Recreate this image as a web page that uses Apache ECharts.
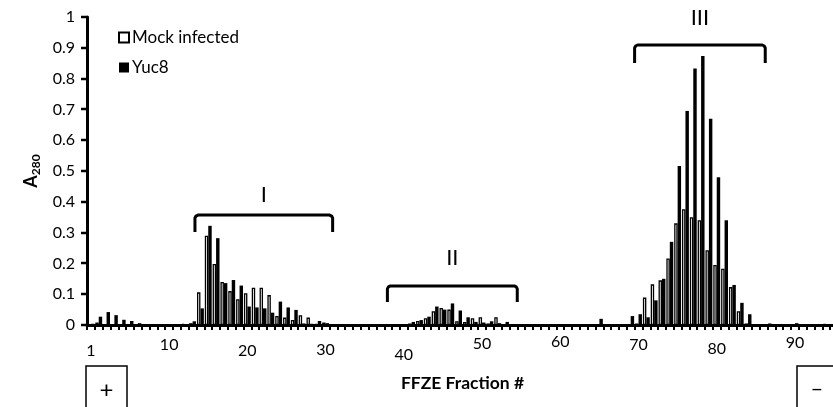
<!DOCTYPE html>
<html>
<head>
<meta charset="utf-8">
<script src="https://cdn.jsdelivr.net/npm/echarts@6/dist/echarts.min.js"></script>
<style>
  html, body { margin: 0; padding: 0; background: #fff; }
  #chart { width: 833px; height: 407px; }
</style>
</head>
<body>
<div id="chart"></div>
<script>
// FFZE fractions along the x axis
const fractions = []
for (let i = 1; i <= 96; i++) fractions.push(String(i))

// A280 per fraction
const mockInfected = [
  0, 0.008, 0, 0.003, 0.002, 0, 0, 0, 0, 0,
  0, 0, 0.004, 0.006, 0.106, 0.29, 0.198, 0.14, 0.11, 0.084,
  0.103, 0.121, 0.121, 0.097, 0.029, 0.024, 0.016, 0.032, 0.024, 0.004,
  0.008, 0.003, 0, 0, 0, 0, 0, 0, 0, 0,
  0, 0.005, 0.013, 0.022, 0.045, 0.055, 0.05, 0.012, 0.01, 0.022,
  0.025, 0.005, 0.025, 0.003, 0.002, 0, 0, 0, 0, 0,
  0, 0, 0, 0, 0, 0, 0, 0, 0.003, 0,
  0.005, 0.089, 0.132, 0.145, 0.216, 0.33, 0.376, 0.35, 0.34, 0.243,
  0.195, 0.183, 0.123, 0.045, 0.005, 0.003, 0, 0.005, 0, 0,
  0, 0, 0, 0, 0.004, 0
]
const yuc8 = [
  0.004, 0.027, 0.042, 0.032, 0.017, 0.013, 0.006, 0, 0, 0,
  0, 0, 0.002, 0.012, 0.054, 0.322, 0.282, 0.136, 0.146, 0.128,
  0.06, 0.057, 0.054, 0.04, 0.076, 0.057, 0.049, 0.005, 0.004, 0.013,
  0.006, 0, 0, 0, 0, 0, 0, 0, 0, 0,
  0, 0.01, 0.016, 0.027, 0.06, 0.05, 0.07, 0.047, 0.025, 0.01,
  0.008, 0.012, 0.006, 0.01, 0, 0, 0, 0, 0, 0,
  0, 0, 0, 0, 0, 0.02, 0, 0, 0, 0.029,
  0.035, 0.025, 0.08, 0.15, 0.27, 0.516, 0.695, 0.833, 0.873, 0.67,
  0.48, 0.34, 0.13, 0.072, 0.035, 0, 0, 0, 0, 0,
  0.006, 0, 0, 0, 0, 0
]

// labels under the axis: [category index, text]
const tickLabels = [[0, '1'], [10, '10'], [20, '20'], [30, '30'], [40, '40'],
  [50, '50'], [60, '60'], [70, '70'], [80, '80'], [90, '90']]
// y ticks every 0.1
const yTicks = [0, 0.1, 0.2, 0.3, 0.4, 0.5, 0.6, 0.7, 0.8, 0.9, 1]

// peak groups: span in category units, bracket level in A280
const brackets = [
  { label: 'I', from: 13.8, to: 31.4, level: 0.357, arm: 0.302, text: 0.422 },
  { label: 'II', from: 38.4, to: 55.0, level: 0.127, arm: 0.075, text: 0.2175 },
  { label: 'III', from: 70.0, to: 86.7, level: 0.909, arm: 0.851, text: 0.997 }
]

// the hand-placed labels sit at slightly different heights
const labelDrop = { '1': 9, '10': 3, '20': 9, '30': 8, '40': 13, '50': 2, '60': 0, '70': 3, '80': 7, '90': 1 }

const FONT = 'Lato'
const labelAt = {}
tickLabels.forEach(([i, t]) => { labelAt[i] = t })
const rich = {}
Object.keys(labelDrop).forEach(t => {
  rich['d' + t] = { fontSize: 16, color: '#000', fontFamily: FONT, padding: [labelDrop[t], 0, 0, 0] }
})

const chart = echarts.init(document.getElementById('chart'))

chart.setOption({
  animation: false,
  grid: { left: 87, top: 17, right: -5, bottom: 82, containLabel: false, outerBoundsMode: 'none' },
  legend: {
    orient: 'vertical',
    left: 113,
    top: 24,
    itemWidth: 10,
    itemHeight: 10,
    itemGap: 13,
    icon: 'rect',
    textStyle: { fontSize: 17, color: '#000', fontFamily: FONT, padding: [0, 0, 0, -2] },
    data: ['Mock infected', 'Yuc8']
  },
  xAxis: {
    type: 'category',
    data: fractions,
    name: 'FFZE Fraction #',
    nameLocation: 'middle',
    nameGap: 49,
    nameTextStyle: { fontSize: 17.5, fontWeight: 'bold', color: '#000', fontFamily: FONT },
    axisLine: { lineStyle: { color: '#000', width: 3 } },
    axisTick: { show: true, interval: 0, length: 5, lineStyle: { color: '#000', width: 2 } },
    axisLabel: {
      interval: (i) => labelAt[i] !== undefined,
      formatter: (v, i) => labelAt[i] !== undefined ? '{d' + labelAt[i] + '|' + labelAt[i] + '}' : '',
      margin: 9,
      rich: rich
    },
    splitLine: { show: false }
  },
  yAxis: {
    type: 'value',
    min: 0,
    max: 1,
    interval: 0.1,
    name: '{a|A}{s|280}',
    nameLocation: 'middle',
    nameRotate: 90,
    nameGap: 43,
    nameTextStyle: {
      rich: {
        a: { fontSize: 18, fontWeight: 'bold', color: '#000', fontFamily: FONT },
        s: { fontSize: 12, fontWeight: 'bold', color: '#000', fontFamily: FONT, padding: [10, 0, 0, 0] }
      }
    },
    axisLine: { show: true, lineStyle: { color: '#000', width: 3 } },
    axisTick: { show: false },
    axisLabel: { fontSize: 16, color: '#000', fontFamily: FONT, margin: 12 },
    splitLine: { show: false }
  },
  series: [
    {
      name: 'Mock infected',
      type: 'bar',
      data: mockInfected,
      barGap: '0%',
      barCategoryGap: '12%',
      itemStyle: { color: '#fff', borderColor: '#000', borderWidth: 1.3 }
    },
    {
      name: 'Yuc8',
      type: 'bar',
      data: yuc8,
      itemStyle: { color: '#000' }
    }
  ]
})

// x pixel for a position in category units (index i spans i..i+1)
function xPix(v) {
  const i = Math.floor(v)
  const a = chart.convertToPixel({ xAxisIndex: 0 }, i)
  const b = chart.convertToPixel({ xAxisIndex: 0 }, i + 1)
  return a + (v - i - 0.5) * (b - a)
}
function yPix(v) {
  return chart.convertToPixel({ yAxisIndex: 0 }, v)
}

const graphics = []

// outward tick marks on the value axis
const axisX = xPix(0)
yTicks.forEach(t => {
  const y = Math.round(yPix(t))
  graphics.push({
    type: 'line',
    shape: { x1: axisX - 6, y1: y, x2: axisX, y2: y },
    style: { stroke: '#000', lineWidth: 2.5 }
  })
})

brackets.forEach(b => {
  const x1 = xPix(b.from), x2 = xPix(b.to)
  const yt = yPix(b.level), ya = yPix(b.arm)
  graphics.push({
    type: 'polyline',
    shape: { points: [[x1, ya], [x1, yt + 3], [x1 + 1, yt + 1], [x1 + 3, yt], [x2 - 3, yt], [x2 - 1, yt + 1], [x2, yt + 3], [x2, ya]] },
    style: { fill: null, stroke: '#000', lineWidth: 3, lineJoin: 'round' }
  })
  graphics.push({
    type: 'text',
    x: (x1 + x2) / 2,
    y: yPix(b.text),
    style: { text: b.label, fontSize: 22, fill: '#000', fontFamily: FONT, align: 'center', verticalAlign: 'middle' }
  })
})

// electrode polarity boxes
graphics.push(
  { type: 'rect', shape: { x: 86, y: 366, width: 41, height: 50 }, style: { fill: '#fff', stroke: '#000', lineWidth: 1.5 } },
  { type: 'text', x: 106.5, y: 390, style: { text: '+', fontSize: 24, fill: '#000', fontFamily: FONT, align: 'center', verticalAlign: 'middle' } },
  { type: 'rect', shape: { x: 797, y: 366, width: 50, height: 50 }, style: { fill: '#fff', stroke: '#000', lineWidth: 1.5 } },
  { type: 'text', x: 817, y: 389, style: { text: '–', fontSize: 22, fill: '#000', fontFamily: FONT, align: 'center', verticalAlign: 'middle' } }
)

chart.setOption({ graphic: graphics })
</script>
</body>
</html>
